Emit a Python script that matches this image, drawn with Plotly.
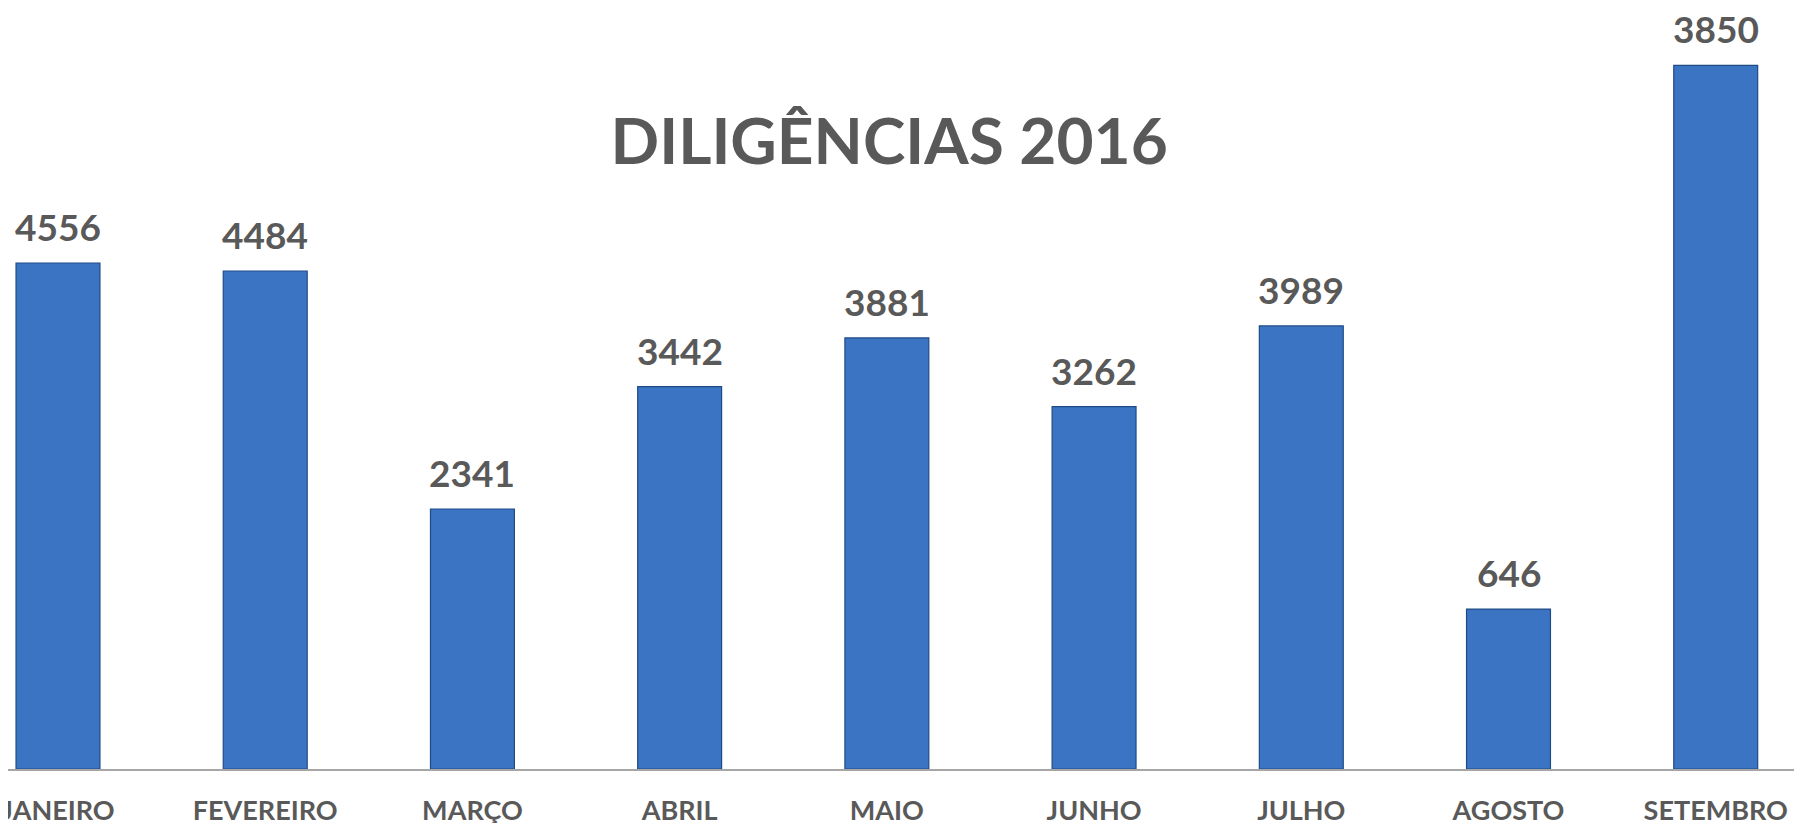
import plotly.graph_objects as go

meses = ["JANEIRO", "FEVEREIRO", "MARÇO", "ABRIL", "MAIO", "JUNHO", "JULHO", "AGOSTO", "SETEMBRO"]
# bar heights as drawn in the source chart
alturas = [4556, 4484, 2341, 3442, 3881, 3262, 3989, 1440, 6335]
# value labels as printed above each bar
rotulos = ["4556", "4484", "2341", "3442", "3881", "3262", "3989", "646", "3850"]

cor_texto = "#595959"
fonte = "Lato"

fig = go.Figure(go.Bar(
    x=meses,
    y=alturas,
    marker=dict(color="#3a74c2", line=dict(color="#1f4b85", width=1.2)),
    hoverinfo="x+y",
))

for mes, alt, rot in zip(meses, alturas, rotulos):
    fig.add_annotation(x=mes, y=alt, text=f"<b>{rot}</b>", showarrow=False,
                       yanchor="bottom", yshift=12,
                       font=dict(family=fonte, size=37, color=cor_texto))

fig.update_layout(
    width=1802,
    height=823,
    margin=dict(l=0, r=0, t=0, b=62),
    plot_bgcolor="white",
    paper_bgcolor="white",
    bargap=0.595,
    showlegend=False,
    title=dict(text="<b>DILIGÊNCIAS 2016</b>", x=0.489, xanchor="center",
               y=1 - 134 / 823, yanchor="middle", yref="container",
               font=dict(family=fonte, size=64, color=cor_texto)),
    xaxis=dict(range=[-0.2413, 8.455], automargin=False, showline=True,
               linecolor="#a6a6a6", linewidth=2,
               ticks="", showgrid=False, ticklabelstandoff=17,
               tickfont=dict(family=fonte, size=27, color=cor_texto, weight="bold")),
    yaxis=dict(range=[0, 6852], visible=False, showgrid=False, zeroline=False,
               automargin=False),
)

fig.write_html("out.html")
